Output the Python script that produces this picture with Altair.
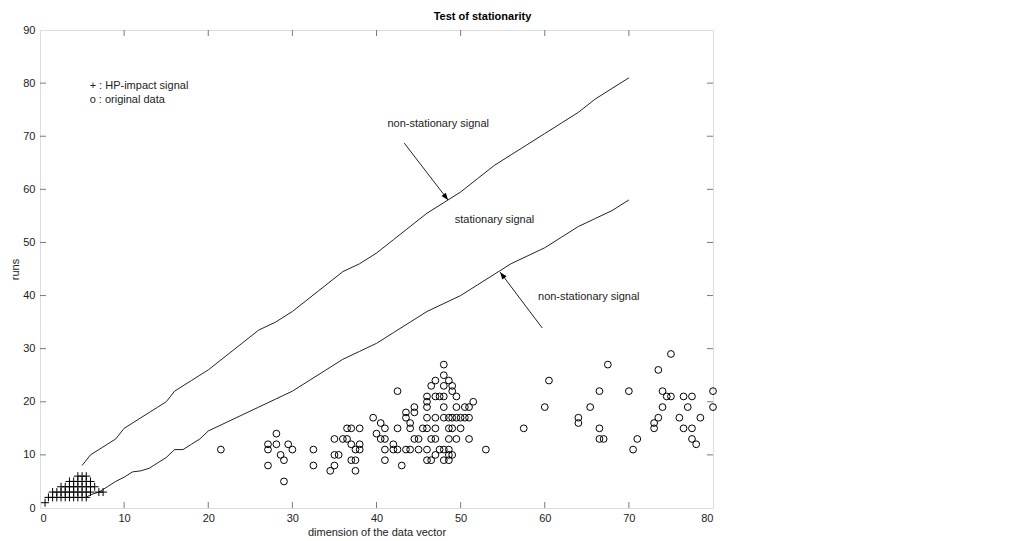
import math
import altair as alt
import pandas as pd

# ---------------- data ----------------
upper_x = [5, 6, 7, 8, 9, 10, 11, 12, 13, 14, 15, 16, 17, 18, 19, 20, 22, 24, 26, 28, 30,
           32, 34, 36, 38, 40, 42, 44, 46, 48, 50, 52, 54, 56, 58, 60, 62, 64, 66, 68, 70]
upper_y = [8, 10, 11, 12, 13, 15, 16, 17, 18, 19, 20, 22, 23, 24, 25, 26, 28.5, 31, 33.5, 35, 37,
           39.5, 42, 44.5, 46, 48, 50.5, 53, 55.5, 57.5, 59.5, 62, 64.5, 66.5, 68.5, 70.5, 72.5, 74.5, 77, 79, 81]

lower_x = [5.5, 6, 7, 8, 9, 10, 11, 12, 13, 14, 15, 16, 17, 18, 19, 20, 22, 24, 26, 28, 30,
           32, 34, 36, 38, 40, 42, 44, 46, 48, 50, 52, 54, 56, 58, 60, 62, 64, 66, 68, 70]
lower_y = [2, 2.5, 3, 4, 5, 5.8, 6.8, 7, 7.5, 8.5, 9.5, 11, 11, 12, 13, 14.5, 16, 17.5, 19, 20.5, 22,
           24, 26, 28, 29.5, 31, 33, 35, 37, 38.5, 40, 42, 44, 46, 47.5, 49, 51, 53, 54.5, 56, 58]

circle_x = [21.5, 27.1, 27.1, 27.1, 28.1, 28.1, 28.6, 29, 29, 29.5, 30, 32.5, 32.5, 34.5,
            35, 35, 35, 35.5, 36, 36.5, 36.5, 37, 37, 37, 37.5, 37.5, 37.5, 38, 38, 38,
            39.6, 40, 40.5, 40.5, 41, 41, 41, 41, 42, 42, 42.5, 42.5, 42.5, 43,
            43.5, 43.5, 43.5, 44, 44, 44, 44.5, 44.5, 44.5, 45, 45, 45.5,
            46, 46, 46, 46, 46, 46, 46, 46.5, 46.5, 46.5,
            47, 47, 47, 47, 47, 47, 47.5, 47.5,
            48, 48, 48, 48, 48, 48, 48, 48,
            48.6, 48.6, 48.6, 48.6, 48.6, 48.6, 48.6,
            49, 49, 49, 49, 49, 49.5, 49.5, 49.5, 49.5,
            50, 50, 50.5, 50.5, 51, 51, 51, 51.5, 53,
            57.5, 60, 60.5, 64, 64, 65.4, 66.5, 66.5, 66.5, 67, 67.5, 70, 70.5, 71,
            73, 73, 73.5, 73.5, 74, 74, 74.5, 75, 75, 76, 76.5, 76.5, 77,
            77.5, 77.5, 77.5, 78, 78.5, 80, 80]
circle_y = [11, 12, 11, 8, 14, 12, 10, 9, 5, 12, 11, 11, 8, 7,
            13, 10, 8, 10, 13, 15, 13, 15, 12, 9, 11, 9, 7, 15, 12, 11,
            17, 14, 16, 13, 15, 13, 11, 9, 12, 11, 22, 15, 11, 8,
            18, 17, 11, 16, 15, 11, 19, 18, 13, 13, 11, 15,
            21, 20, 19, 17, 15, 11, 9, 23, 13, 9,
            24, 21, 17, 15, 13, 10, 21, 11,
            27, 25, 23, 21, 19, 17, 11, 9,
            24, 17, 15, 13, 11, 10, 9,
            23, 22, 17, 15, 10, 21, 19, 17, 13,
            17, 15, 19, 17, 19, 17, 13, 20, 11,
            15, 19, 24, 17, 16, 19, 22, 15, 13, 13, 27, 22, 11, 13,
            16, 15, 17, 26, 22, 19, 21, 29, 21, 17, 21, 15, 19,
            21, 15, 13, 12, 17, 22, 19]

plus_x = [0.6,
          1.0, 1.5, 2.0, 2.5, 3.0, 3.5, 4.0, 4.5, 5.0, 5.5,
          1.5, 2.0, 2.5, 3.0, 3.5, 4.0, 4.5, 5.0, 5.5, 6.0, 7.0, 7.5,
          2.5, 3.0, 3.5, 4.0, 4.5, 5.0, 5.5, 6.0, 6.5,
          3.5, 4.0, 4.5, 5.0, 5.5, 6.0,
          4.5, 5.0, 5.5]
plus_y = [1,
          2, 2, 2, 2, 2, 2, 2, 2, 2, 2,
          3, 3, 3, 3, 3, 3, 3, 3, 3, 3, 3, 3,
          4, 4, 4, 4, 4, 4, 4, 4, 4,
          5, 5, 5, 5, 5, 5,
          6, 6, 6]

note_text = ["+ : HP-impact signal", "o : original data", "non-stationary signal",
             "stationary signal", "non-stationary signal"]
note_x = [5.9, 5.9, 41.3, 49.3, 59.2]
note_y = [79.5, 76.9, 72.3, 54.2, 39.7]

arrow_x0 = [43.3, 59.7]
arrow_y0 = [68.7, 33.9]
arrow_x1 = [48.5, 54.7]
arrow_y1 = [58.0, 44.4]

x_ticks = [0, 10, 20, 30, 40, 50, 60, 70, 80]
y_ticks = [0, 10, 20, 30, 40, 50, 60, 70, 80, 90]

# ---------------- layout ----------------
W, H = 673, 478
FONT = "Liberation Sans"
FRAME = "#7a7a7a"
TICKLEN = 6

xs = alt.Scale(domain=[0, 80], nice=False, zero=False)
ys = alt.Scale(domain=[0, 90], nice=False, zero=False)

lines_df = pd.DataFrame({
    "x": upper_x + lower_x,
    "y": upper_y + lower_y,
    "s": ["upper"] * len(upper_x) + ["lower"] * len(lower_x),
})
circ_df = pd.DataFrame({"x": circle_x, "y": circle_y})
plus_df = pd.DataFrame({"x": plus_x, "y": plus_y})
note_df = pd.DataFrame({"t": note_text, "x": note_x, "y": note_y})

px_x = W / 80.0
px_y = H / 90.0
angles = []
for a, b, c, d in zip(arrow_x0, arrow_y0, arrow_x1, arrow_y1):
    dx = (c - a) * px_x
    dy = -(d - b) * px_y
    angles.append((math.degrees(math.atan2(dx, -dy)) + 360) % 360)
arrow_df = pd.DataFrame({"x0": arrow_x0, "y0": arrow_y0, "x1": arrow_x1, "y1": arrow_y1, "ang": angles})

xt_df = pd.DataFrame({"v": x_ticks[1:-1]})
yt_df = pd.DataFrame({"v": y_ticks[1:-1]})

x_enc = alt.X("x:Q", scale=xs,
              axis=alt.Axis(values=x_ticks, title="dimension of the data vector", grid=False,
                            domain=False, ticks=False, labelPadding=4, labelFont=FONT,
                            labelFontSize=11, labelColor="#222", titleFont=FONT, titleFontSize=11,
                            titleFontWeight="normal", titleColor="#222", titlePadding=3))
y_enc = alt.Y("y:Q", scale=ys,
              axis=alt.Axis(values=y_ticks, title="runs", grid=False, domain=False, ticks=False,
                            labelPadding=5, labelFont=FONT, labelFontSize=11, labelColor="#222",
                            titleFont=FONT, titleFontSize=11, titleFontWeight="normal",
                            titleColor="#222", titlePadding=2))

lines = alt.Chart(lines_df).mark_line(color="#222", strokeWidth=1).encode(
    x=x_enc, y=y_enc, detail="s:N", order="x:Q")

circles = alt.Chart(circ_df).mark_point(shape="circle", filled=False, color="black",
                                        size=46, strokeWidth=1, opacity=1).encode(
    x=alt.X("x:Q", scale=xs), y=alt.Y("y:Q", scale=ys))

pluses = alt.Chart(plus_df).mark_point(shape="M-1,0L1,0M0,-1L0,1", filled=False, color="black",
                                       size=64, strokeWidth=1, opacity=1).encode(
    x=alt.X("x:Q", scale=xs), y=alt.Y("y:Q", scale=ys))

notes = alt.Chart(note_df).mark_text(align="left", baseline="middle", font=FONT, fontSize=11,
                                     color="#222").encode(
    x=alt.X("x:Q", scale=xs), y=alt.Y("y:Q", scale=ys), text="t:N")

arrow_shafts = alt.Chart(arrow_df).mark_rule(color="#222", strokeWidth=1).encode(
    x=alt.X("x0:Q", scale=xs), y=alt.Y("y0:Q", scale=ys), x2="x1:Q", y2="y1:Q")

arrow_heads = alt.Chart(arrow_df).mark_point(shape="M0,0L-0.38,1L0.38,1Z", filled=True,
                                             color="black", size=200, opacity=1).encode(
    x=alt.X("x1:Q", scale=xs), y=alt.Y("y1:Q", scale=ys), angle=alt.Angle("ang:Q", scale=None))

tick_style = dict(color=FRAME, strokeWidth=1)
xt_bottom = alt.Chart(xt_df).mark_rule(**tick_style).encode(
    x=alt.X("v:Q", scale=xs), y=alt.value(H), y2=alt.value(H - TICKLEN))
xt_top = alt.Chart(xt_df).mark_rule(**tick_style).encode(
    x=alt.X("v:Q", scale=xs), y=alt.value(0), y2=alt.value(TICKLEN))
yt_left = alt.Chart(yt_df).mark_rule(**tick_style).encode(
    y=alt.Y("v:Q", scale=ys), x=alt.value(0), x2=alt.value(TICKLEN))
yt_right = alt.Chart(yt_df).mark_rule(**tick_style).encode(
    y=alt.Y("v:Q", scale=ys), x=alt.value(W), x2=alt.value(W - TICKLEN))

chart = alt.layer(
    lines, arrow_shafts, arrow_heads, circles, pluses, notes,
    xt_bottom, xt_top, yt_left, yt_right,
).properties(
    width=W, height=H,
    title=alt.TitleParams("Test of stationarity", font=FONT, fontSize=11, fontWeight="bold",
                          color="black", anchor="middle", dx=106, offset=2),
    autosize=alt.AutoSizeParams(type="none"),
    padding={"left": 40, "top": 30, "right": 319, "bottom": 33},
).configure_view(
    stroke=FRAME, strokeWidth=1.5
).configure(background="white")

chart.save("out.html", embed_options={"renderer": "svg", "actions": False})
